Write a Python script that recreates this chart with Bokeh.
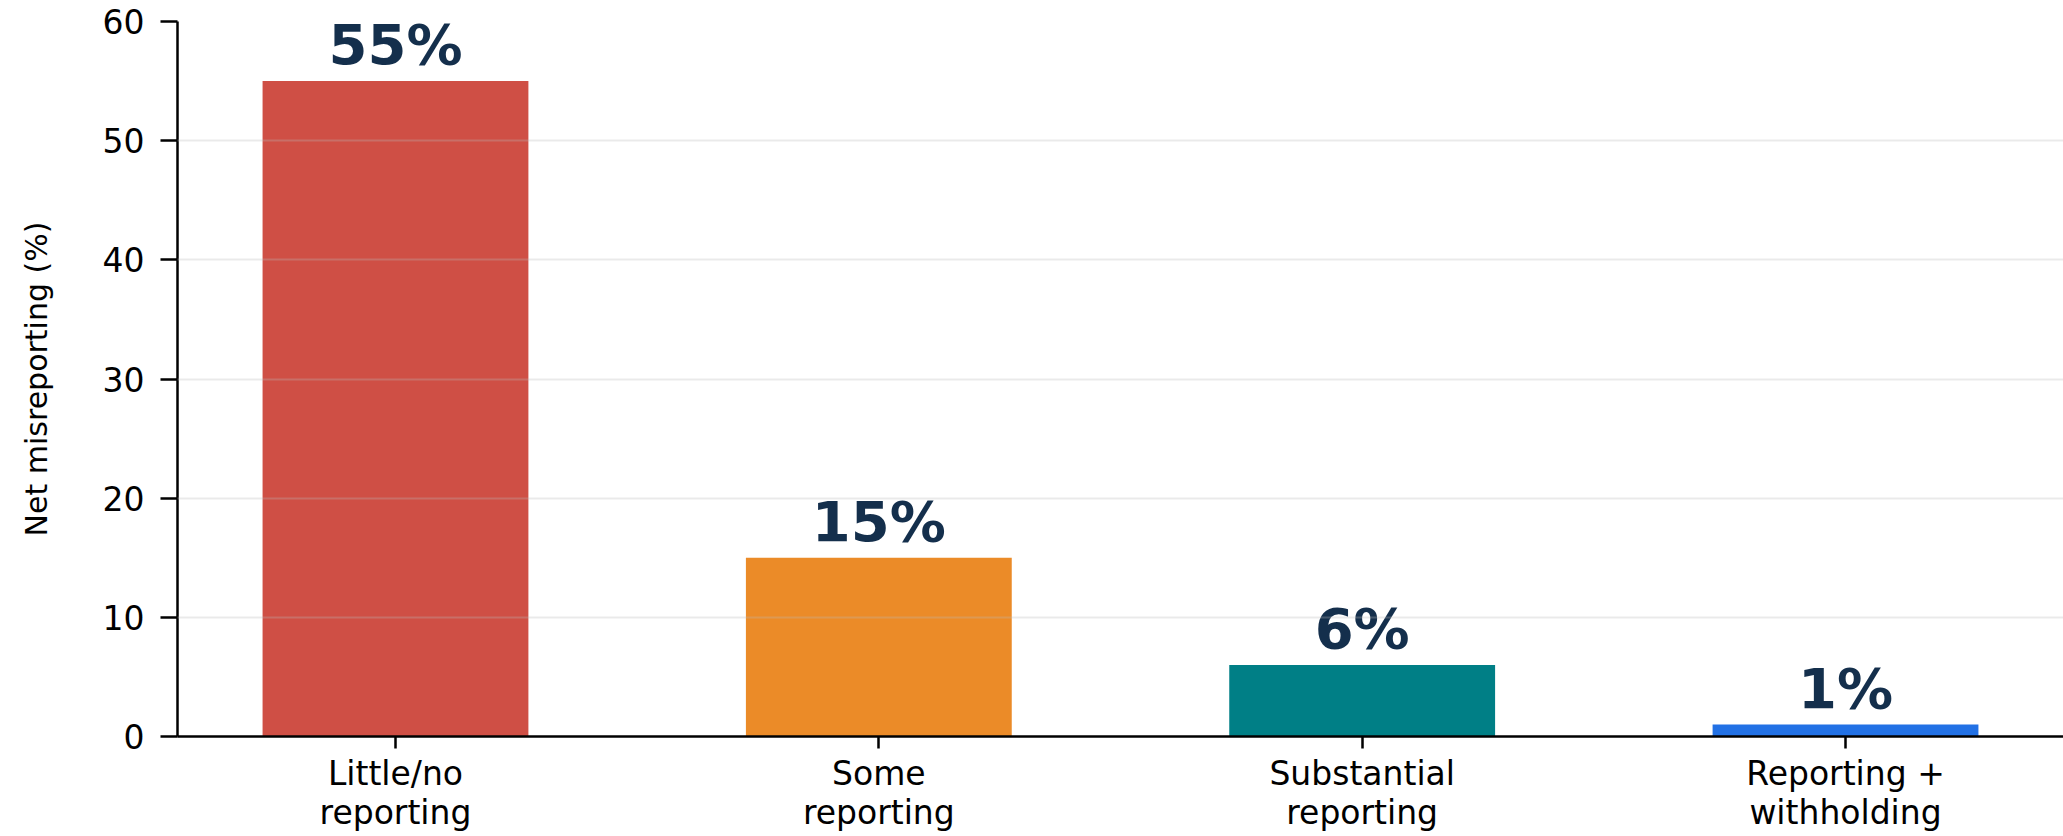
from bokeh.plotting import figure
from bokeh.models import Range1d, FixedTicker, ColumnDataSource, LabelSet
from bokeh.embed import file_html
from bokeh.resources import INLINE
from bokeh.core.properties import value

categories = ["Little/no\nreporting", "Some\nreporting", "Substantial\nreporting", "Reporting +\nwithholding"]
values = [55, 15, 6, 1]
labels = ["55%", "15%", "6%", "1%"]
colors = ["#cf4f45", "#eb8b28", "#007f86", "#2271e5"]
y_ticks = [0, 10, 20, 30, 40, 50, 60]
y_title = "Net misreporting (%)"

FONT = "DejaVu Sans"
x = list(range(len(categories)))
src = ColumnDataSource(dict(x=x, top=values, label=labels, color=colors))

p = figure(width=2063, height=836, output_backend="svg", toolbar_location=None,
           x_range=Range1d(-0.451, 3.451), y_range=Range1d(0, 60),
           min_border_left=177, min_border_top=21, min_border_right=0, min_border_bottom=100)
p.outline_line_color = None
p.background_fill_color = "white"
p.border_fill_color = "white"

p.vbar(x="x", top="top", width=0.55, bottom=0, fill_color="color", line_color=None, source=src)
p.add_layout(LabelSet(x="x", y="top", text="label", source=src, text_align="center",
                      text_baseline="alphabetic", y_offset=17, text_font=value(FONT),
                      text_font_style="bold", text_font_size=value("56px"), text_color="#142f4c"))

p.xgrid.visible = False
p.ygrid.ticker = FixedTicker(ticks=y_ticks)
p.ygrid.grid_line_color = "#b8b8b8"
p.ygrid.grid_line_alpha = 0.3
p.ygrid.grid_line_width = 2
p.ygrid.level = "overlay"

xa = p.xaxis[0]
xa.ticker = FixedTicker(ticks=x)
xa.major_label_overrides = {i: c for i, c in zip(x, categories)}
xa.major_tick_in = 0
xa.major_tick_out = 12
xa.minor_tick_line_color = None
xa.axis_line_width = 2.5
xa.major_tick_line_width = 2.5
xa.axis_line_color = "black"
xa.major_tick_line_color = "black"
xa.major_label_text_font = FONT
xa.major_label_text_font_size = "33px"
xa.major_label_text_line_height = 1.0
xa.major_label_text_color = "black"
xa.major_label_standoff = 5

ya = p.yaxis[0]
ya.ticker = FixedTicker(ticks=y_ticks)
ya.major_tick_in = 0
ya.major_tick_out = 17
ya.minor_tick_line_color = None
ya.axis_line_width = 2.5
ya.major_tick_line_width = 2.5
ya.axis_line_color = "black"
ya.major_tick_line_color = "black"
ya.major_label_text_font = FONT
ya.major_label_text_font_size = "33px"
ya.major_label_text_color = "black"
ya.major_label_standoff = 16
ya.axis_label = y_title
ya.axis_label_text_font = FONT
ya.axis_label_text_font_size = "30px"
ya.axis_label_text_font_style = "normal"
ya.axis_label_text_color = "black"
ya.axis_label_standoff = 46

open("out.html", "w").write(file_html(p, INLINE))
